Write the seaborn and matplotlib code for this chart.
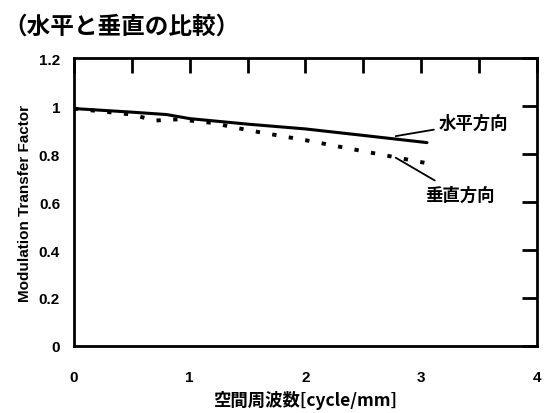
import matplotlib
matplotlib.use("Agg")
import matplotlib.pyplot as plt
import seaborn as sns
import pandas as pd
from matplotlib.ticker import MultipleLocator

# MTF measured along the two scan directions
freq_h = [0.0, 0.5, 0.8, 1.0, 1.5, 2.0, 2.5, 3.05]
mtf_h = [0.99, 0.975, 0.965, 0.948, 0.925, 0.905, 0.878, 0.848]

freq_v = [0.0, 0.5, 0.7, 0.9, 1.2, 1.5, 2.0, 2.5, 3.05]
mtf_v = [0.99, 0.965, 0.94, 0.945, 0.93, 0.90, 0.858, 0.812, 0.762]

x_ticks = [0, 1, 2, 3, 4]
y_ticks = [0, 0.2, 0.4, 0.6, 0.8, 1.0, 1.2]
y_tick_labels = ["0", "0.2", "0.4", "0.6", "0.8", "1", "1.2"]

title = "（水平と垂直の比較）"
x_label = "空間周波数[cycle/mm]"
y_label = "Modulation Transfer Factor"
label_h = "水平方向"
label_v = "垂直方向"

sns.set_theme(style="white")
plt.rcParams["font.family"] = ["Liberation Sans", "Noto Sans CJK JP", "DejaVu Sans"]

df_h = pd.DataFrame({"freq": freq_h, "mtf": mtf_h})
df_v = pd.DataFrame({"freq": freq_v, "mtf": mtf_v})

fig = plt.figure(figsize=(5.44, 4.14), dpi=100)
ax = fig.add_axes([0.136, 0.162, 0.851, 0.695])

sns.lineplot(data=df_h, x="freq", y="mtf", ax=ax, color="black", lw=2.2)
sns.lineplot(data=df_v, x="freq", y="mtf", ax=ax, color="black", lw=2.8,
             linestyle=(0, (1.1, 3.2)))

ax.set_xlim(0, 4)
ax.set_ylim(0, 1.2)
ax.set_xticks(x_ticks)
ax.xaxis.set_minor_locator(MultipleLocator(0.5))
ax.set_yticks(y_ticks)
ax.set_yticklabels(y_tick_labels)

for s in ax.spines.values():
    s.set_color("black")
    s.set_linewidth(2.0)

ax.tick_params(axis="both", which="both", direction="in", length=11, width=2,
               color="black", top=True, right=True)
ax.tick_params(axis="x", which="major", pad=17)
ax.tick_params(axis="y", which="major", pad=10)
for lbl in ax.get_xticklabels() + ax.get_yticklabels():
    lbl.set_fontweight("bold")
    lbl.set_fontsize(11)
    lbl.set_color("black")

ax.set_xlabel(x_label, family=["Noto Sans CJK JP", "DejaVu Sans"],
              fontweight="bold", fontsize=12.5, labelpad=5, color="black")
ax.set_ylabel(y_label, family=["Liberation Sans", "DejaVu Sans"],
              fontweight="bold", fontsize=11, labelpad=5, color="black")

fig.text(0.006, 0.935, title, family=["Noto Sans CJK JP", "DejaVu Sans"],
         fontweight="bold", fontsize=17, va="center", ha="left", color="black")

# Leader-line labels for each curve
ax.annotate(label_h, xy=(2.78, 0.875), xytext=(3.15, 0.93),
            family=["Noto Sans CJK JP"], fontweight="bold", fontsize=12.5,
            va="center", ha="left", color="black",
            arrowprops=dict(arrowstyle="-", color="black", lw=1.3,
                            shrinkA=1, shrinkB=0))
ax.annotate(label_v, xy=(2.78, 0.785), xytext=(3.03, 0.63),
            family=["Noto Sans CJK JP"], fontweight="bold", fontsize=12.5,
            va="center", ha="left", color="black",
            arrowprops=dict(arrowstyle="-", color="black", lw=1.3,
                            shrinkA=3, shrinkB=0))

ax.set_facecolor("white")
fig.patch.set_facecolor("white")
fig.savefig("out.png", dpi=100, facecolor="white")
